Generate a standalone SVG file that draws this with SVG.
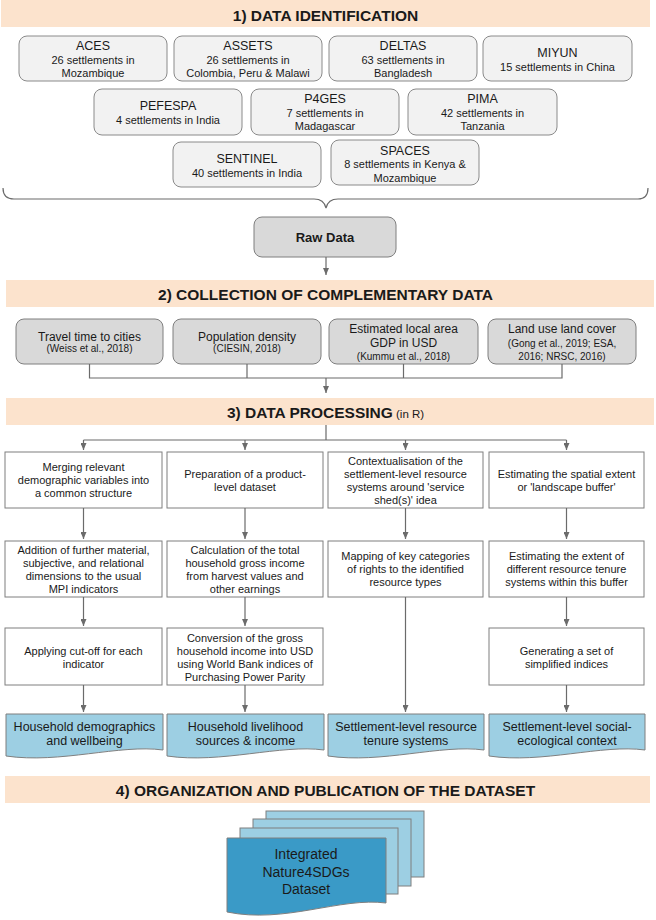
<svg xmlns="http://www.w3.org/2000/svg" width="656" height="920" viewBox="0 0 656 920">
<defs>
<marker id="ah" markerWidth="7" markerHeight="6" refX="7" refY="3" orient="auto" markerUnits="userSpaceOnUse"><path d="M0,0 L7,3 L0,6 Z" fill="#6b6b6b"/></marker>
<style>
text{font-family:"Liberation Sans",Arial,sans-serif;fill:#1a1a1a;text-anchor:middle}
.hb{fill:#FCE3CD}
.ht{font-size:15.5px;font-weight:bold}
.ds{fill:#F2F2F2;stroke:#8a8a8a;stroke-width:1}
.cd{fill:#D9D9D9;stroke:#7f7f7f;stroke-width:1}
.pb{fill:#fff;stroke:#7f7f7f;stroke-width:1}
.bd{fill:#9DCFE3;stroke:#7f7f7f;stroke-width:1}
.fd{fill:#3A9AC7;stroke:#7f7f7f;stroke-width:1}
.t1{font-size:12.5px}
.t2{font-size:11px}
.t3{font-size:12px}
.t4{font-size:10px}
.t5{font-size:12.5px}
.t6{font-size:14px}
.cn{fill:none;stroke:#6b6b6b;stroke-width:1.2}
</style>
</defs>

<g id="header1"><rect class="hb" x="1" y="0" width="649" height="27"/><text class="ht" x="325.5" y="20.5">1) DATA IDENTIFICATION</text></g>

<g id="aces"><rect class="ds" x="19" y="36" width="148" height="45" rx="8"/><text class="t1" x="93" y="50">ACES</text><text class="t2" x="93" y="63.5">26 settlements in</text><text class="t2" x="93" y="77">Mozambique</text></g>
<g id="assets"><rect class="ds" x="174" y="36" width="148" height="45" rx="8"/><text class="t1" x="248" y="50">ASSETS</text><text class="t2" x="248" y="63.5">26 settlements in</text><text class="t2" x="248" y="77">Colombia, Peru &amp; Malawi</text></g>
<g id="deltas"><rect class="ds" x="329" y="36" width="148" height="45" rx="8"/><text class="t1" x="403" y="50">DELTAS</text><text class="t2" x="403" y="63.5">63 settlements in</text><text class="t2" x="403" y="77">Bangladesh</text></g>
<g id="miyun"><rect class="ds" x="483" y="36" width="149" height="45" rx="8"/><text class="t1" x="557.5" y="57">MIYUN</text><text class="t2" x="557.5" y="70.5">15 settlements in China</text></g>
<g id="pefespa"><rect class="ds" x="94" y="89" width="148" height="46" rx="8"/><text class="t1" x="168" y="110">PEFESPA</text><text class="t2" x="168" y="123.5">4 settlements in India</text></g>
<g id="p4ges"><rect class="ds" x="251" y="89" width="148" height="46" rx="8"/><text class="t1" x="325" y="103">P4GES</text><text class="t2" x="325" y="116.5">7 settlements in</text><text class="t2" x="325" y="130">Madagascar</text></g>
<g id="pima"><rect class="ds" x="408" y="89" width="149" height="46" rx="8"/><text class="t1" x="482.5" y="103">PIMA</text><text class="t2" x="482.5" y="116.5">42 settlements in</text><text class="t2" x="482.5" y="130">Tanzania</text></g>
<g id="sentinel"><rect class="ds" x="173" y="142" width="148" height="45" rx="8"/><text class="t1" x="247" y="163">SENTINEL</text><text class="t2" x="247" y="176.5">40 settlements in India</text></g>
<g id="spaces"><rect class="ds" x="331" y="140" width="148" height="45" rx="8"/><text class="t1" x="405" y="155">SPACES</text><text class="t2" x="405" y="168">8 settlements in Kenya &amp;</text><text class="t2" x="405" y="181.5">Mozambique</text></g>

<g id="rawdata"><rect class="cd" x="254" y="217" width="142" height="40" rx="8"/><text x="325" y="242" style="font-size:13px;font-weight:bold">Raw Data</text></g>

<g id="header2"><rect class="hb" x="6" y="280" width="648" height="27"/><text class="ht" x="325.5" y="299.5">2) COLLECTION OF COMPLEMENTARY DATA</text></g>

<g id="travel"><rect class="cd" x="16" y="319" width="147" height="45" rx="8"/><text class="t3" x="89.5" y="340.5">Travel time to cities</text><text class="t4" x="89.5" y="352">(Weiss et al., 2018)</text></g>
<g id="popdens"><rect class="cd" x="173" y="319" width="148" height="45" rx="8"/><text class="t3" x="247" y="340.5">Population density</text><text class="t4" x="247" y="352">(CIESIN, 2018)</text></g>
<g id="gdp"><rect class="cd" x="329" y="319" width="149" height="45" rx="8"/><text class="t3" x="403.5" y="332.5">Estimated local area</text><text class="t3" x="403.5" y="347">GDP in USD</text><text class="t4" x="403.5" y="360">(Kummu et al., 2018)</text></g>
<g id="lulc"><rect class="cd" x="488" y="319" width="148" height="45" rx="8"/><text class="t3" x="562" y="332.5">Land use land cover</text><text class="t4" x="562" y="347">(Gong et al., 2019; ESA,</text><text class="t4" x="562" y="360">2016; NRSC, 2016)</text></g>

<g id="header3"><rect class="hb" x="6" y="398" width="648" height="27"/><text x="325.5" y="417.5"><tspan class="ht">3) DATA PROCESSING</tspan><tspan style="font-size:11.5px"> (in R)</tspan></text></g>

<g id="a1"><rect class="pb" x="5" y="452" width="157" height="56"/><text class="t2" x="83.5" y="471">Merging relevant</text><text class="t2" x="83.5" y="484">demographic variables into</text><text class="t2" x="83.5" y="497">a common structure</text></g>
<g id="a2"><rect class="pb" x="167" y="452" width="156" height="56"/><text class="t2" x="245" y="477.5">Preparation of a product-</text><text class="t2" x="245" y="490.5">level dataset</text></g>
<g id="a3"><rect class="pb" x="328" y="452" width="155" height="56"/><text class="t2" x="405.5" y="464.5">Contextualisation of the</text><text class="t2" x="405.5" y="477.5">settlement-level resource</text><text class="t2" x="405.5" y="490.5">systems around 'service</text><text class="t2" x="405.5" y="503.5">shed(s)' idea</text></g>
<g id="a4"><rect class="pb" x="489" y="452" width="155" height="56"/><text class="t2" x="566.5" y="477.5">Estimating the spatial extent</text><text class="t2" x="566.5" y="490.5">or 'landscape buffer'</text></g>

<g id="b1"><rect class="pb" x="5" y="541" width="157" height="56"/><text class="t2" x="83.5" y="554">Addition of further material,</text><text class="t2" x="83.5" y="567">subjective, and relational</text><text class="t2" x="83.5" y="580">dimensions to the usual</text><text class="t2" x="83.5" y="593">MPI indicators</text></g>
<g id="b2"><rect class="pb" x="167" y="541" width="156" height="56"/><text class="t2" x="245" y="554">Calculation of the total</text><text class="t2" x="245" y="567">household gross income</text><text class="t2" x="245" y="580">from harvest values and</text><text class="t2" x="245" y="593">other earnings</text></g>
<g id="b3"><rect class="pb" x="328" y="541" width="155" height="56"/><text class="t2" x="405.5" y="560">Mapping of key categories</text><text class="t2" x="405.5" y="573">of rights to the identified</text><text class="t2" x="405.5" y="586">resource types</text></g>
<g id="b4"><rect class="pb" x="489" y="541" width="155" height="56"/><text class="t2" x="566.5" y="560">Estimating the extent of</text><text class="t2" x="566.5" y="573">different resource tenure</text><text class="t2" x="566.5" y="586">systems within this buffer</text></g>

<g id="c1"><rect class="pb" x="5" y="628" width="157" height="57"/><text class="t2" x="83.5" y="654.5">Applying cut-off for each</text><text class="t2" x="83.5" y="667.5">indicator</text></g>
<g id="c2"><rect class="pb" x="167" y="628" width="156" height="57"/><text class="t2" x="245" y="641.5">Conversion of the gross</text><text class="t2" x="245" y="654.5">household income into USD</text><text class="t2" x="245" y="667.5">using World Bank indices of</text><text class="t2" x="245" y="680.5">Purchasing Power Parity</text></g>
<g id="c4"><rect class="pb" x="489" y="628" width="155" height="57"/><text class="t2" x="566.5" y="654.5">Generating a set of</text><text class="t2" x="566.5" y="667.5">simplified indices</text></g>

<g id="d1"><path class="bd" d="M6,714 H163 V750 C120,744 60,764 6,756 Z"/><text class="t5" x="84.5" y="730.5">Household demographics</text><text class="t5" x="84.5" y="744.5">and wellbeing</text></g>
<g id="d2"><path class="bd" d="M167,714 H324 V750 C281,744 221,764 167,756 Z"/><text class="t5" x="245.5" y="730.5">Household livelihood</text><text class="t5" x="245.5" y="744.5">sources &amp; income</text></g>
<g id="d3"><path class="bd" d="M328,714 H484 V750 C441,744 381,764 328,756 Z"/><text class="t5" x="406" y="730.5">Settlement-level resource</text><text class="t5" x="406" y="744.5">tenure systems</text></g>
<g id="d4"><path class="bd" d="M489,714 H645 V750 C602,744 542,764 489,756 Z"/><text class="t5" x="567" y="730.5">Settlement-level social-</text><text class="t5" x="567" y="744.5">ecological context</text></g>

<g id="header4"><rect class="hb" x="5" y="776" width="645" height="27"/><text class="ht" x="325.5" y="795.5">4) ORGANIZATION AND PUBLICATION OF THE DATASET</text></g>

<g id="dataset">
<rect class="bd" x="266" y="811" width="158" height="66"/>
<rect class="bd" x="253" y="819" width="158" height="67"/>
<rect class="bd" x="240" y="828" width="158" height="66"/>
<path class="fd" d="M227,838 H386 V903 C340,897 285,924 227,912 Z"/>
<text class="t6" x="306" y="859">Integrated</text>
<text class="t6" x="306" y="877">Nature4SDGs</text>
<text class="t6" x="306" y="894">Dataset</text>
</g>

<g id="connectors">
<path class="cn" d="M3,188 Q3,199 14,199 H314 Q324,199 326,208 Q328,199 338,199 H638 Q648,199 648,188"/>
<path class="cn" d="M326,257 V275" marker-end="url(#ah)"/>
<path class="cn" d="M89.5,364 V378 H562 V364 M247,364 V378 M403.5,364 V378"/>
<path class="cn" d="M326,378 V393" marker-end="url(#ah)"/>
<path class="cn" d="M326,425 V440 M83.5,440 H566.5"/>
<path class="cn" d="M83.5,440 V450" marker-end="url(#ah)"/>
<path class="cn" d="M245,440 V450" marker-end="url(#ah)"/>
<path class="cn" d="M405.5,440 V450" marker-end="url(#ah)"/>
<path class="cn" d="M566.5,440 V450" marker-end="url(#ah)"/>
<path class="cn" d="M83.5,508 V539" marker-end="url(#ah)"/>
<path class="cn" d="M245,508 V539" marker-end="url(#ah)"/>
<path class="cn" d="M405.5,508 V539" marker-end="url(#ah)"/>
<path class="cn" d="M566.5,508 V539" marker-end="url(#ah)"/>
<path class="cn" d="M83.5,597 V626" marker-end="url(#ah)"/>
<path class="cn" d="M245,597 V626" marker-end="url(#ah)"/>
<path class="cn" d="M566.5,597 V626" marker-end="url(#ah)"/>
<path class="cn" d="M83.5,685 V712" marker-end="url(#ah)"/>
<path class="cn" d="M245,685 V712" marker-end="url(#ah)"/>
<path class="cn" d="M405.5,597 V712" marker-end="url(#ah)"/>
<path class="cn" d="M566.5,685 V712" marker-end="url(#ah)"/>
</g>
</svg>
